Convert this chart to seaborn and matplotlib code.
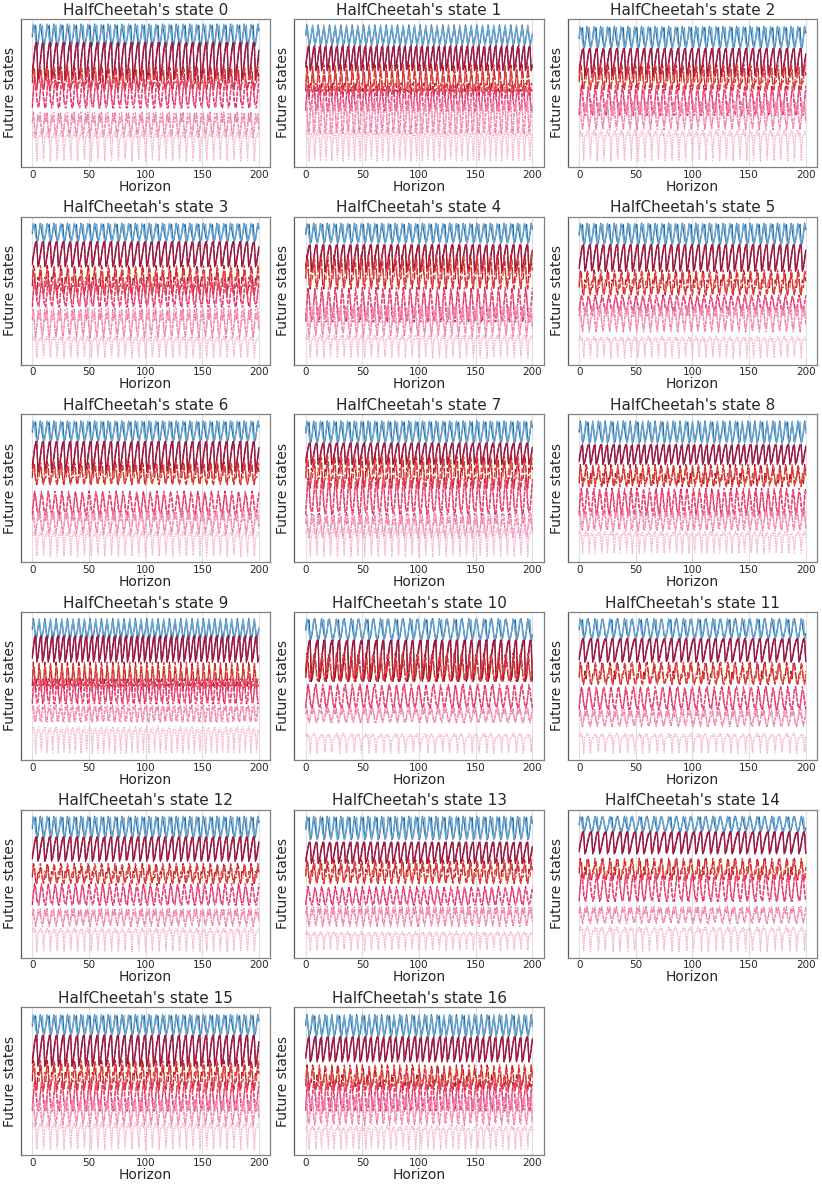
import numpy as np
import matplotlib
matplotlib.use("Agg")
import matplotlib.pyplot as plt
import seaborn as sns

# ---------------- data ----------------
HORIZON = np.arange(0, 201)
TICKS = [0, 50, 100, 150, 200]
TITLES = ["HalfCheetah's state %d" % i for i in range(17)]

# cycle lengths (steps) that are concatenated to form one repeating pattern per panel
PANEL_CYCLES = [[6], [5], [6], [6], [6], [6], [6], [6], [5, 6], [5],
                [6, 7], [6, 7], [6], [6], [6, 7], [6], [5, 6]]

# band order: blue (true), maroon, red, crimson, pink, light pink
# band top / bottom as fraction of the axes height measured from the top
BAND_TOP = [
    [0.034, 0.16, 0.32, 0.39, 0.63, 0.76],
    [0.04, 0.18, 0.31, 0.45, 0.55, 0.75],
    [0.05, 0.20, 0.30, 0.45, 0.55, 0.75],
    [0.045, 0.17, 0.33, 0.42, 0.62, 0.81],
    [0.045, 0.19, 0.26, 0.48, 0.60, 0.80],
    [0.045, 0.19, 0.36, 0.53, 0.60, 0.81],
    [0.045, 0.185, 0.32, 0.52, 0.655, 0.79],
    [0.045, 0.195, 0.275, 0.43, 0.68, 0.77],
    [0.045, 0.205, 0.34, 0.50, 0.655, 0.79],
    [0.045, 0.16, 0.34, 0.45, 0.63, 0.775],
    [0.045, 0.19, 0.28, 0.49, 0.65, 0.82],
    [0.045, 0.18, 0.34, 0.505, 0.66, 0.82],
    [0.045, 0.185, 0.365, 0.50, 0.67, 0.80],
    [0.045, 0.22, 0.34, 0.52, 0.655, 0.825],
    [0.045, 0.15, 0.33, 0.43, 0.655, 0.79],
    [0.05, 0.19, 0.36, 0.50, 0.62, 0.78],
    [0.05, 0.20, 0.39, 0.50, 0.60, 0.80],
]
BAND_BOTTOM = [
    [0.19, 0.41, 0.48, 0.60, 0.80, 0.96],
    [0.18, 0.35, 0.52, 0.62, 0.79, 0.96],
    [0.20, 0.38, 0.48, 0.65, 0.75, 0.96],
    [0.17, 0.34, 0.53, 0.61, 0.82, 0.955],
    [0.18, 0.37, 0.49, 0.71, 0.81, 0.955],
    [0.19, 0.37, 0.53, 0.64, 0.78, 0.955],
    [0.185, 0.385, 0.475, 0.68, 0.81, 0.96],
    [0.195, 0.34, 0.50, 0.68, 0.835, 0.96],
    [0.195, 0.34, 0.49, 0.68, 0.79, 0.94],
    [0.19, 0.34, 0.53, 0.62, 0.75, 0.955],
    [0.19, 0.47, 0.47, 0.65, 0.75, 0.955],
    [0.18, 0.34, 0.49, 0.66, 0.775, 0.955],
    [0.195, 0.35, 0.50, 0.645, 0.79, 0.96],
    [0.205, 0.365, 0.50, 0.645, 0.79, 0.95],
    [0.15, 0.30, 0.475, 0.62, 0.77, 0.96],
    [0.19, 0.40, 0.56, 0.70, 0.80, 0.96],
    [0.20, 0.37, 0.56, 0.70, 0.80, 0.96],
]

# one gait cycle per band (two traces per band), 1 = top of band, 0 = bottom
CYCLE5 = [
    [[0.5, 1.0, 0.6, 0.0, 0.15], [0.6, 0.9, 0.45, 0.05, 0.3]],
    [[0.15, 0.5, 0.85, 1.0, 0.0], [0.25, 0.6, 0.95, 0.9, 0.05]],
    [[0.15, 1.0, 0.65, 0.0, 0.4], [0.35, 0.85, 0.5, 0.15, 0.2]],
    [[0.0, 0.8, 1.0, 0.4, 0.15], [0.1, 0.55, 0.9, 0.65, 0.0]],
    [[0.75, 1.0, 0.15, 0.05, 0.6], [0.8, 0.8, 0.1, 0.35, 0.9]],
    [[0.85, 1.0, 0.8, 0.0, 0.7], [0.9, 0.8, 0.7, 0.15, 0.85]],
]
CYCLE6 = [
    [[0.45, 0.95, 0.8, 0.95, 0.0, 0.1], [0.55, 1.0, 0.7, 0.3, 0.05, 0.25]],
    [[0.1, 0.4, 0.7, 0.95, 1.0, 0.0], [0.2, 0.5, 0.8, 1.0, 0.9, 0.05]],
    [[0.3, 1.0, 0.85, 0.1, 0.0, 0.6], [0.5, 0.85, 0.55, 0.25, 0.05, 0.3]],
    [[0.0, 0.55, 1.0, 0.75, 0.2, 0.1], [0.15, 0.5, 0.85, 0.8, 0.4, 0.0]],
    [[0.6, 1.0, 0.4, 0.0, 0.35, 0.8], [0.75, 0.85, 0.25, 0.1, 0.45, 0.95]],
    [[0.85, 1.0, 0.8, 0.9, 0.0, 0.75], [0.8, 0.9, 0.95, 0.7, 0.1, 0.85]],
]
CYCLE7 = [
    [[0.4, 0.85, 1.0, 0.7, 0.25, 0.0, 0.1], [0.5, 0.95, 0.9, 0.6, 0.15, 0.05, 0.25]],
    [[0.1, 0.35, 0.6, 0.8, 0.95, 1.0, 0.0], [0.2, 0.45, 0.7, 0.9, 1.0, 0.85, 0.05]],
    [[0.25, 0.85, 1.0, 0.6, 0.1, 0.0, 0.45], [0.4, 0.95, 0.8, 0.4, 0.05, 0.1, 0.3]],
    [[0.0, 0.45, 0.9, 1.0, 0.55, 0.2, 0.05], [0.15, 0.4, 0.8, 0.95, 0.7, 0.3, 0.0]],
    [[0.6, 1.0, 0.65, 0.1, 0.0, 0.35, 0.85], [0.7, 0.9, 0.5, 0.05, 0.2, 0.5, 0.95]],
    [[0.85, 1.0, 0.9, 0.75, 0.0, 0.6, 0.8], [0.9, 0.85, 0.95, 0.65, 0.1, 0.7, 0.75]],
]
SHAPES = {5: CYCLE5, 6: CYCLE6, 7: CYCLE7}

# ---------------- style ----------------
COLORS = [
    ["#1f6eab", "#6fa6d0"],
    ["#870a30", "#9e1d45"],
    ["#c3171f", "#dc463b"],
    ["#dc1f5a", "#e8507a"],
    ["#ee72a2", "#f294b8"],
    ["#f4a8c8", "#f8c4da"],
]
LINESTYLES = [
    ["-", "-"],
    ["-", (0, (8, 1))],
    [(0, (6, 1.5)), (0, (4, 1.5))],
    [(0, (3.5, 1.2)), (0, (3, 1.5))],
    [(0, (3, 1, 1, 1)), (0, (2, 1.5))],
    [(0, (1, 1)), (0, (1, 1.5))],
]

sns.set_theme(style="whitegrid")
plt.rcParams["font.family"] = ["DejaVu Sans"]

fig, axes = plt.subplots(6, 3, figsize=(8.22, 11.86), dpi=100)
fig.subplots_adjust(left=0.0255, right=0.994, top=0.984, bottom=0.026,
                    wspace=0.097, hspace=0.336)

for p in range(17):
    ax = axes.flat[p]
    for b in range(6):
        top, bot = BAND_TOP[p][b], BAND_BOTTOM[p][b]
        for j in range(2):
            cycle = []
            for L in PANEL_CYCLES[p]:
                cycle += SHAPES[L][b][j]
            for L in PANEL_CYCLES[p]:
                cycle += SHAPES[L][b][1 - j]
            vals = np.resize(np.array(cycle, dtype=float), HORIZON.size)
            y = -(top + (1.0 - vals) * (bot - top))
            sns.lineplot(x=HORIZON, y=y, ax=ax, color=COLORS[b][j],
                         linestyle=LINESTYLES[b][j], linewidth=0.9,
                         estimator=None, sort=False)
    ax.set_ylim(-1, 0)
    ax.set_xlim(-10, 210)
    ax.set_xticks(TICKS)
    ax.set_yticks([])
    ax.tick_params(axis="x", labelsize=7.5, length=0, pad=2)
    ax.grid(axis="x", color="0.88", linewidth=0.8)
    ax.grid(axis="y", visible=False)
    ax.set_title(TITLES[p], fontsize=11, pad=3)
    ax.set_xlabel("Horizon", fontsize=10, labelpad=0)
    ax.set_ylabel("Future states", fontsize=10, labelpad=3)
    for s in ax.spines.values():
        s.set_color("0.5")
        s.set_linewidth(0.9)
    ax.spines["left"].set_color("0.35")

axes.flat[17].axis("off")

fig.savefig("out.png", dpi=100)
